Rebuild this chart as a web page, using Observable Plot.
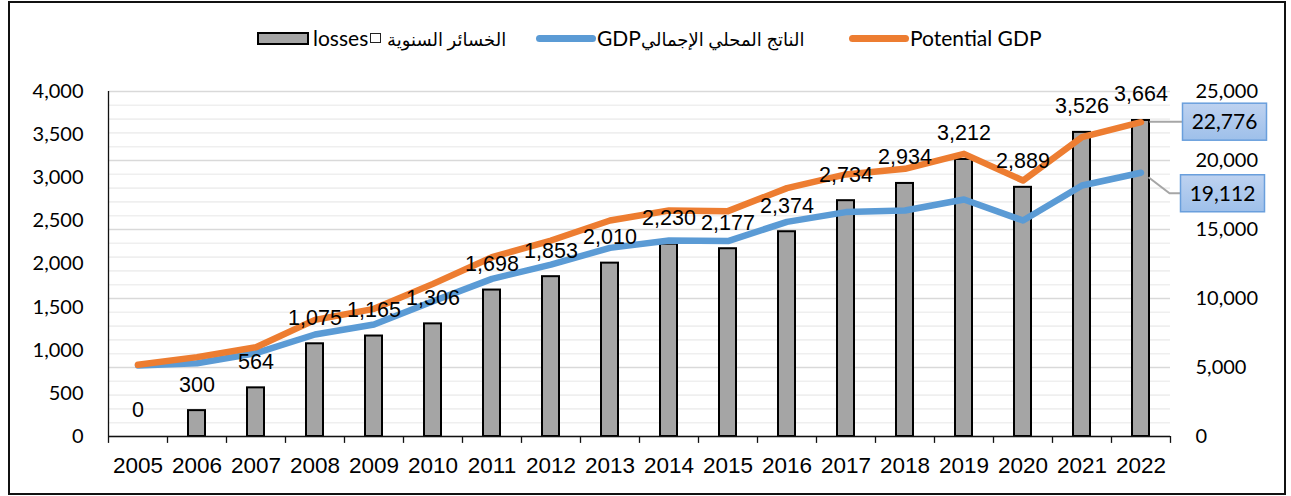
<!DOCTYPE html>
<html>
<head>
<meta charset="utf-8">
<script src="https://cdn.jsdelivr.net/npm/d3@7"></script>
<script src="https://cdn.jsdelivr.net/npm/@observablehq/plot@0.6"></script>
<style>
  html, body { margin: 0; padding: 0; background: #fff; }
  #page { position: relative; width: 1291px; height: 496px; overflow: hidden; }
  #frame { position: absolute; left: 8px; top: 1px; width: 1278px; height: 494px; box-sizing: border-box; border: 2px solid #111; }
  .lg { position: absolute; font-family: Lato, "DejaVu Sans", sans-serif; font-size: 21px; color: #000; line-height: 28px; top: 24px; height: 28px; white-space: nowrap; direction: ltr; }
  .ar { font-size: 18px; }
  .sw { position: absolute; }
  #chart { position: absolute; left: 0; top: 70px; }
</style>
</head>
<body>
<div id="page">
  <div id="frame"></div>
  <div id="legend"></div>
  <div id="chart"></div>
</div>
<script>
const years = ["2005","2006","2007","2008","2009","2010","2011","2012","2013","2014","2015","2016","2017","2018","2019","2020","2021","2022"];
const losses = [0,300,564,1075,1165,1306,1698,1853,2010,2230,2177,2374,2734,2934,3212,2889,3526,3664];
const gdp = [5150,5310,6040,7390,8120,9800,11420,12460,13670,14200,14160,15550,16260,16380,17170,15650,18190,19112];
const potential = [5200,5750,6470,8450,9250,11060,12990,14200,15650,16380,16330,18000,18990,19400,20480,18550,21690,22776];
const leftTicks = [0,500,1000,1500,2000,2500,3000,3500,4000];
const rightTicks = [0,5000,10000,15000,20000,25000];
const rightMinor = [1000,2000,3000,4000,6000,7000,8000,9000,11000,12000,13000,14000,16000,17000,18000,19000,21000,22000,23000,24000];
const seriesLatin = ["losses", "GDP", "Potential GDP"];
const seriesArabic = ["الخسائر السنوية", "الناتج المحلي الإجمالي", ""];
const colors = { bar: "#a5a5a5", gdp: "#5b9bd5", potential: "#ed7d31" };

const k = 4000 / 25000; // right axis -> left axis
const fmt = d3.format(",");
const rows = years.map((y, i) => ({year: y, loss: losses[i], gdp: gdp[i], potential: potential[i]}));

// Legend (HTML above the SVG)
const legend = document.getElementById("legend");
legend.innerHTML = `
  <div class="sw" style="left:257px;top:32px;width:52px;height:13px;box-sizing:border-box;border:2px solid #000;background:${colors.bar}"></div>
  <div class="lg" style="left:313px">${seriesLatin[0]}</div>
  <div class="sw" style="left:370px;top:33px;width:11px;height:10px;box-sizing:border-box;border:1.5px solid #222;background:#fff"></div>
  <div class="lg" style="left:387px"><span class="ar">${seriesArabic[0]}</span></div>
  <div class="sw" style="left:536px;top:35px;width:60px;height:7px;border-radius:4px;background:${colors.gdp}"></div>
  <div class="lg" style="left:597px"><span>${seriesLatin[1]}</span><span class="ar">${seriesArabic[1]}</span></div>
  <div class="sw" style="left:849px;top:35px;width:60px;height:7px;border-radius:4px;background:${colors.potential}"></div>
  <div class="lg" style="left:910px">${seriesLatin[2]}</div>
`;

// Callout boxes at the last point of each line
function endLabels(index, scales, values, dimensions) {
  const xs = scales.x;
  const bw = typeof xs.bandwidth === "function" ? xs.bandwidth() : (xs.bandwidth || 0);
  const last = rows[rows.length - 1];
  const px = xs(last.year) + bw / 2;
  const g = d3.create("svg:g");
  const defs = g.append("defs");
  const grad = defs.append("linearGradient").attr("id", "boxgrad").attr("x1", 0).attr("y1", 0).attr("x2", 0).attr("y2", 1);
  grad.append("stop").attr("offset", "0%").attr("stop-color", "#bed2f0");
  grad.append("stop").attr("offset", "100%").attr("stop-color", "#9ec0ea");
  const specs = [
    {v: last.potential, leader: (p, q) => `M${p + 9},${q}L${p + 42},${q}`, bx: 42, by: 0},
    {v: last.gdp, leader: (p, q) => `M${p + 8},${q + 5}L${p + 29},${q + 21}L${p + 40},${q + 21}`, bx: 40, by: 21}
  ];
  for (const s of specs) {
    const py = scales.y(s.v * k);
    g.append("path").attr("d", s.leader(px, py)).attr("fill", "none").attr("stroke", "#a6a6a6").attr("stroke-width", 2);
    const w = 84, h = 37;
    g.append("rect").attr("x", px + s.bx).attr("y", py + s.by - h / 2).attr("width", w).attr("height", h)
      .attr("fill", "url(#boxgrad)").attr("stroke", "#6a9fdc").attr("stroke-width", 1.5);
    g.append("text").attr("x", px + s.bx + w / 2).attr("y", py + s.by).attr("dy", "0.35em")
      .attr("text-anchor", "middle").attr("font-family", "Lato, sans-serif").attr("font-size", 21).attr("fill", "#000")
      .text(fmt(s.v));
  }
  return g.node();
}

const chart = Plot.plot({
  width: 1291,
  height: 426,
  marginTop: 21,
  marginBottom: 60,
  marginLeft: 108,
  marginRight: 121,
  style: {fontFamily: "Lato, sans-serif", background: "transparent", overflow: "visible"},
  x: {type: "band", domain: years, paddingInner: 0.71, paddingOuter: 0.355, label: null},
  y: {domain: [0, 4000], label: null},
  marks: [
    Plot.ruleY(rightMinor, {y: d => d * k, stroke: "#efefef", strokeWidth: 1.6}),
    Plot.ruleY(rightTicks, {y: d => d * k, stroke: "#d9d9d9", strokeWidth: 1.6}),
    Plot.barY(rows.filter(d => d.loss > 0), {x: "year", y: "loss", fill: colors.bar, stroke: "#000", strokeWidth: 2}),
    Plot.line(rows, {x: "year", y: d => d.gdp * k, stroke: colors.gdp, strokeWidth: 6.5, strokeLinecap: "round", strokeLinejoin: "round"}),
    Plot.line(rows, {x: "year", y: d => d.potential * k, stroke: colors.potential, strokeWidth: 6.5, strokeLinecap: "round", strokeLinejoin: "round"}),
    Plot.text(rows, {x: "year", y: "loss", text: d => fmt(d.loss), dy: -26, fontSize: 21.5, fontFamily: "Liberation Sans, Arial, sans-serif", fill: "#000"}),
    Plot.ruleY([0], {stroke: "#111", strokeWidth: 1.3}),
    Plot.ruleX(years, {x: d => d, dx: -29.5, y1: 0, y2: -80, stroke: "#111", strokeWidth: 1.3}),
    Plot.ruleX(["2022"], {x: d => d, dx: 29.5, y1: 0, y2: -80, stroke: "#111", strokeWidth: 1.3}),
    Plot.ruleX(["2005"], {x: d => d, dx: -29.5, y1: 0, y2: 4000, stroke: "#111", strokeWidth: 1.3}),
    Plot.axisX({tickSize: 0, tickPadding: 21, fontSize: 22.5, fontFamily: "Liberation Sans, Arial, sans-serif", label: null}),
    Plot.axisY(leftTicks, {anchor: "left", tickSize: 0, tickPadding: 25, tickFormat: d => fmt(d), fontSize: 20, label: null}),
    Plot.text(rightTicks, {y: d => d * k, text: d => fmt(d), frameAnchor: "right", textAnchor: "start", dx: 25, fontSize: 20, fill: "#000"}),
    endLabels
  ]
});
document.getElementById("chart").appendChild(chart);
</script>
</body>
</html>
